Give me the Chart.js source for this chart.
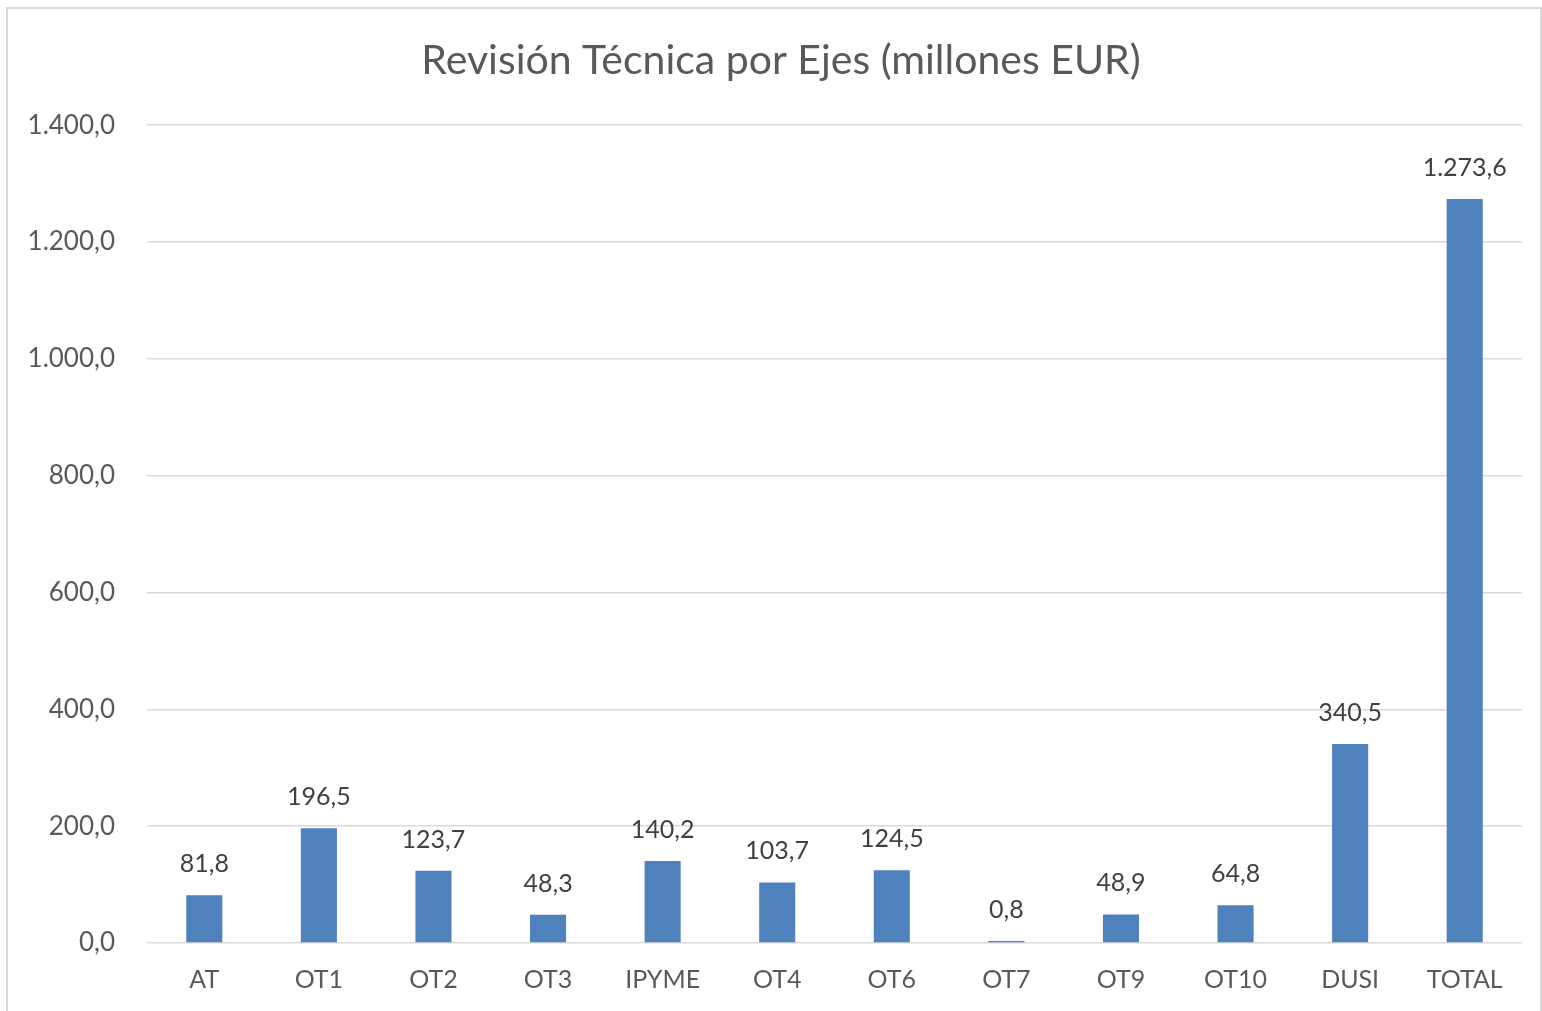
<!DOCTYPE html>
<html>
<head>
<meta charset="utf-8">
<script src="https://cdn.jsdelivr.net/npm/chart.js@4/dist/chart.umd.min.js"></script>
<style>
  body { margin: 0; background: #fff; }
  #wrap { position: absolute; left: 0; top: 0; width: 1542px; height: 1011px; }
  #frame { position: absolute; left: 6px; top: 7px; width: 1536px; height: 1010px;
           border: 2px solid #d9d9d9; box-sizing: border-box; pointer-events: none; }
</style>
</head>
<body>
<div id="wrap"><canvas id="ejes" width="1542" height="1011"></canvas></div>
<div id="frame"></div>
<script>
  // datos
  const categorias = ['AT', 'OT1', 'OT2', 'OT3', 'IPYME', 'OT4', 'OT6', 'OT7', 'OT9', 'OT10', 'DUSI', 'TOTAL'];
  const importes = [81.8, 196.5, 123.7, 48.3, 140.2, 103.7, 124.5, 0.8, 48.9, 64.8, 340.5, 1273.6];
  const ejeMax = 1400;
  const ejePaso = 200;

  const fuente = 'Lato, "Open Sans", sans-serif';

  // formato español: 1.273,6
  function formato(v) {
    const partes = v.toFixed(1).split('.');
    partes[0] = partes[0].replace(/\B(?=(\d{3})+(?!\d))/g, '.');
    return partes.join(',');
  }

  const etiquetas = {
    id: 'etiquetas',
    afterDatasetsDraw(chart) {
      const ctx = chart.ctx;
      const meta = chart.getDatasetMeta(0);
      ctx.save();
      ctx.fillStyle = '#404040';
      ctx.font = '25px ' + fuente;
      ctx.textAlign = 'center';
      ctx.textBaseline = 'middle';
      meta.data.forEach((bar, i) => {
        ctx.fillText(formato(importes[i]), bar.x, bar.y - 31);
      });
      ctx.restore();
    }
  };

  new Chart(document.getElementById('ejes'), {
    type: 'bar',
    data: {
      labels: categorias,
      datasets: [{
        data: importes,
        backgroundColor: '#4f81bd',
        borderWidth: 0,
        minBarLength: 2,
        categoryPercentage: 0.63,
        barPercentage: 0.5
      }]
    },
    options: {
      responsive: false,
      animation: false,
      layout: { padding: { left: 20, right: 0, top: 0, bottom: 0 } },
      plugins: {
        legend: { display: false },
        tooltip: { enabled: false },
        title: {
          display: true,
          text: 'Revisión Técnica por Ejes (millones EUR)',
          color: '#595959',
          font: { family: fuente, size: 41, weight: 'normal', lineHeight: 1.2 },
          padding: { top: 36, bottom: 40 }
        }
      },
      scales: {
        x: {
          grid: { display: false },
          border: { display: false },
          ticks: {
            color: '#595959',
            padding: 14,
            font: { family: fuente, size: 25 }
          },
          afterFit(scale) { scale.height = 68; }
        },
        y: {
          min: 0,
          max: ejeMax,
          grid: { color: '#d9d9d9', lineWidth: 1.5, drawTicks: false },
          border: { display: false },
          ticks: {
            stepSize: ejePaso,
            color: '#595959',
            padding: 32,
            font: { family: fuente, size: 26 },
            callback: v => formato(v)
          },
          afterFit(scale) { scale.width = 127; }
        },
        // eje vacío a la derecha, solo deja margen
        margen: {
          position: 'right',
          min: 0,
          max: ejeMax,
          grid: { display: false },
          border: { display: false },
          ticks: { display: false },
          afterFit(scale) { scale.width = 20; }
        }
      }
    },
    plugins: [etiquetas]
  });
</script>
</body>
</html>
